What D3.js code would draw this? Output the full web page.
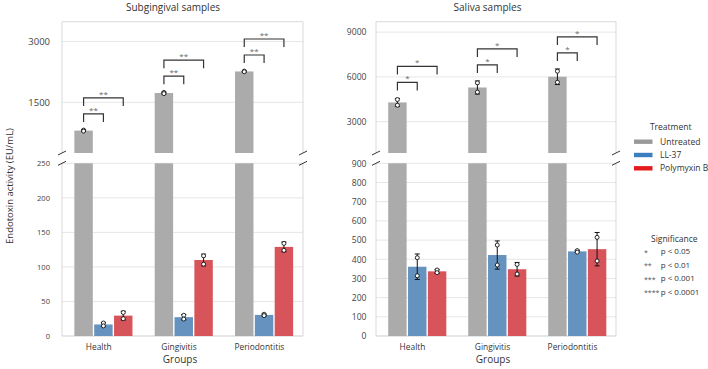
<!DOCTYPE html>
<html>
<head>
<meta charset="utf-8">
<script src="https://cdn.jsdelivr.net/npm/d3@7"></script>
<style>
body { margin: 0; background: #fff; }
text { font-family: "Open Sans", sans-serif; }
</style>
</head>
<body>
<div id="chart"></div>
<script>
var groups = ['Health', 'Gingivitis', 'Periodontitis']
var treatments = ['Untreated', 'LL-37', 'Polymyxin B']

// two replicate measurements per bar (EU/mL)
var subUntreated = [[815, 790], [1745, 1715], [2270, 2255]]
var subLL37 = [[18.8, 14.6], [30, 24.5], [31.5, 29.5]]
var subPolymyxin = [[34, 25], [116, 104], [134, 124]]

var salUntreated = [[4480, 4100], [5600, 4980], [6380, 5640]]
var salLL37 = [[408, 314], [474, 370], [445, 437]]
var salPolymyxin = [[344, 330], [373, 323], [514, 391]]

var subTicksTop = [1500, 3000]
var subTicksBottom = [0, 50, 100, 150, 200, 250]
var salTicksTop = [3000, 6000, 9000]
var salTicksBottom = [0, 100, 200, 300, 400, 500, 600, 700, 800, 900]

var subStars = ['**', '**']
var salStars = ['*', '*']

var sigKeys = ['*', '**', '***', '****']
var sigLabels = ['p < 0.05', 'p < 0.01', 'p < 0.001', 'p < 0.0001']

var barColor = d3.scaleOrdinal().domain(treatments).range(['#ababab', '#6592bf', '#d7545b'])
var legendColor = d3.scaleOrdinal().domain(treatments).range(['#999999', '#3a7fc0', '#e41a1c'])

var W = 708, H = 369
var topY = [153, 21.7], botY = [336, 163.3]

var svg = d3.select('#chart').append('svg')
    .attr('width', W)
    .attr('height', H)

drawPanel({
    title: 'Subgingival samples', titleX: 173, left: 62, right: 303,
    topDomain: [250, 3490], botDomain: [0, 250],
    ticksTop: subTicksTop, ticksBot: subTicksBottom,
    fsTop: 9.5, fsBot: 7.6, labelGap: 12,
    series: [subUntreated, subLL37, subPolymyxin], stars: subStars, xlabelX: 180
})
drawPanel({
    title: 'Saliva samples', titleX: 487.5, left: 376, right: 616,
    topDomain: [900, 9700], botDomain: [0, 900],
    ticksTop: salTicksTop, ticksBot: salTicksBottom,
    fsTop: 8.6, fsBot: 8.6, labelGap: 9.5,
    series: [salUntreated, salLL37, salPolymyxin], stars: salStars, xlabelX: 493
})

function drawPanel(p) {
    var x0 = d3.scaleBand().domain(groups).range([p.left, p.right])
    var x1 = d3.scaleBand().domain(treatments).range([-28.5, 31])
    var yTop = d3.scaleLinear().domain(p.topDomain).range(topY)
    var yBot = d3.scaleLinear().domain(p.botDomain).range(botY)
    var g = svg.append('g')

    // gridlines
    g.selectAll('.gt').data(p.ticksTop).enter().append('line')
        .attr('x1', p.left).attr('x2', p.right)
        .attr('y1', d => yTop(d)).attr('y2', d => yTop(d))
        .attr('stroke', '#e6e6e6')
    g.selectAll('.gb').data(p.ticksBot).enter().append('line')
        .attr('x1', p.left).attr('x2', p.right)
        .attr('y1', d => yBot(d)).attr('y2', d => yBot(d))
        .attr('stroke', '#e6e6e6')

    // spines
    var spine = '#d9d9d9'
    var frame = [
        [p.left, topY[1], p.right, topY[1]],
        [p.left, topY[1], p.left, topY[0]],
        [p.right, topY[1], p.right, topY[0]],
        [p.left, botY[1], p.left, botY[0]],
        [p.right, botY[1], p.right, botY[0]],
        [p.left, botY[0], p.right, botY[0]]
    ]
    g.selectAll('.sp').data(frame).enter().append('line')
        .attr('x1', d => d[0]).attr('y1', d => d[1])
        .attr('x2', d => d[2]).attr('y2', d => d[3])
        .attr('stroke', spine)

    // y axes
    var fmt = d3.format('d')
    var axTop = g.append('g').attr('transform', 'translate(' + p.left + ',0)')
        .call(d3.axisLeft(yTop).tickValues(p.ticksTop).tickFormat(fmt).tickSize(0).tickPadding(p.labelGap))
    var axBot = g.append('g').attr('transform', 'translate(' + p.left + ',0)')
        .call(d3.axisLeft(yBot).tickValues(p.ticksBot).tickFormat(fmt).tickSize(0).tickPadding(p.labelGap))
    axTop.select('.domain').remove()
    axBot.select('.domain').remove()
    axTop.selectAll('text').attr('font-size', p.fsTop).attr('fill', '#444').style('font-family', 'Open Sans')
    axBot.selectAll('text').attr('font-size', p.fsBot).attr('fill', '#444').style('font-family', 'Open Sans')

    // x axis labels
    var axX = g.append('g').attr('transform', 'translate(-3.5,' + botY[0] + ')')
        .call(d3.axisBottom(x0).tickSize(0).tickPadding(8.4))
    axX.select('.domain').remove()
    axX.selectAll('text').attr('font-size', 8.4).attr('fill', '#333').style('font-family', 'Open Sans')

    // rows of bar data
    var rows = []
    treatments.forEach(function (t, i) {
        groups.forEach(function (gr, j) {
            var vals = p.series[i][j]
            rows.push({ t: t, g: gr, vals: vals, mean: d3.mean(vals), sd: d3.deviation(vals) })
        })
    })
    var bw = x1.bandwidth()
    var cx = d => x0(d.g) + x0.bandwidth() / 2 + x1(d.t) + bw / 2
    var botMax = p.botDomain[1]
    var yOf = (d, v) => d.mean > botMax ? yTop(v) : yBot(v)

    g.selectAll('.barb').data(rows).enter().append('rect')
        .attr('x', d => cx(d) - bw / 2 + 0.7)
        .attr('width', bw - 1.4)
        .attr('y', d => yBot(Math.min(d.mean, botMax)))
        .attr('height', d => yBot(0) - yBot(Math.min(d.mean, botMax)))
        .attr('fill', d => barColor(d.t))
    g.selectAll('.bart').data(rows.filter(d => d.mean > botMax)).enter().append('rect')
        .attr('x', d => cx(d) - bw / 2 + 0.7)
        .attr('width', bw - 1.4)
        .attr('y', d => yTop(d.mean))
        .attr('height', d => yTop(p.topDomain[0]) - yTop(d.mean))
        .attr('fill', d => barColor(d.t))

    // error bars (mean +- sd)
    var eb = g.selectAll('.eb').data(rows).enter().append('g')
    eb.append('line')
        .attr('x1', cx).attr('x2', cx)
        .attr('y1', d => yOf(d, d.mean - d.sd)).attr('y2', d => yOf(d, d.mean + d.sd))
        .attr('stroke', '#111').attr('stroke-width', 1)
    eb.append('line')
        .attr('x1', d => cx(d) - 2.5).attr('x2', d => cx(d) + 2.5)
        .attr('y1', d => yOf(d, d.mean + d.sd)).attr('y2', d => yOf(d, d.mean + d.sd))
        .attr('stroke', '#111')
    eb.append('line')
        .attr('x1', d => cx(d) - 2.5).attr('x2', d => cx(d) + 2.5)
        .attr('y1', d => yOf(d, d.mean - d.sd)).attr('y2', d => yOf(d, d.mean - d.sd))
        .attr('stroke', '#111')
    eb.selectAll('circle').data(d => d.vals.map(v => ({ d: d, v: v }))).enter().append('circle')
        .attr('cx', o => cx(o.d))
        .attr('cy', o => yOf(o.d, o.v))
        .attr('r', 2)
        .attr('fill', '#fff')
        .attr('stroke', '#111')
        .attr('stroke-width', 0.9)

    // significance brackets: untreated vs LL-37, untreated vs Polymyxin B
    var line = d3.line()
    groups.forEach(function (gr) {
        var u = rows.find(d => d.g == gr && d.t == 'Untreated')
        var base = yTop(u.mean + u.sd) - 8
        ;['LL-37', 'Polymyxin B'].forEach(function (t, k) {
            var o = rows.find(d => d.g == gr && d.t == t)
            var yb = base - 16 * k, yt = yb - 8
            var xa = cx(u), xb = cx(o)
            g.append('path')
                .attr('d', line([[xa, yb], [xa, yt], [xb, yt], [xb, yb]]))
                .attr('fill', 'none')
                .attr('stroke', '#333')
                .attr('stroke-width', 1.2)
            g.append('text')
                .attr('x', (xa + xb) / 2)
                .attr('y', yt - 1)
                .attr('text-anchor', 'middle')
                .attr('font-size', 8)
                .attr('fill', '#666')
                .text(p.stars[k])
        })
    })

    // axis break marks
    ;[p.left, p.right].forEach(function (bx) {
        ;[topY[0], botY[1]].forEach(function (by) {
            g.append('line')
                .attr('x1', bx - 4).attr('y1', by + 2)
                .attr('x2', bx + 4).attr('y2', by - 2)
                .attr('stroke', '#333').attr('stroke-width', 1)
        })
    })

    g.append('text')
        .attr('x', p.titleX).attr('y', 11)
        .attr('text-anchor', 'middle')
        .attr('font-size', 10)
        .attr('fill', '#333')
        .text(p.title)

    g.append('text')
        .attr('x', p.xlabelX).attr('y', 363.3)
        .attr('text-anchor', 'middle')
        .attr('font-size', 10)
        .attr('fill', '#333')
        .text('Groups')
}

svg.append('text')
    .attr('transform', 'translate(12.5,186) rotate(-90)')
    .attr('text-anchor', 'middle')
    .attr('font-size', 9.5)
    .attr('fill', '#333')
    .text('Endotoxin activity (EU/mL)')

// treatment legend
var leg = svg.append('g')
leg.append('text')
    .attr('x', 670.7).attr('y', 130.3)
    .attr('text-anchor', 'middle')
    .attr('font-size', 8.5).attr('fill', '#333')
    .text('Treatment')
var li = leg.selectAll('.li').data(treatments).enter().append('g')
    .attr('transform', (d, i) => 'translate(634,' + (141.7 + i * 13.3) + ')')
li.append('rect')
    .attr('x', 0).attr('y', -2.2)
    .attr('width', 18.5).attr('height', 4.4)
    .attr('fill', d => legendColor(d))
li.append('text')
    .attr('x', 26).attr('y', 3)
    .attr('font-size', 8.5).attr('fill', '#333')
    .text(d => d)

// significance legend
var sig = svg.append('g')
sig.append('text')
    .attr('x', 674.3).attr('y', 241.5)
    .attr('text-anchor', 'middle')
    .attr('font-size', 8.5).attr('fill', '#333')
    .text('Significance')
var si = sig.selectAll('.si').data(sigKeys).enter().append('g')
    .attr('transform', (d, i) => 'translate(0,' + (251 + i * 13.5) + ')')
si.append('text')
    .attr('x', 644).attr('y', 3.5)
    .attr('font-size', 7).attr('fill', '#555')
    .text(d => d)
si.append('text')
    .attr('x', 660.7).attr('y', 3)
    .attr('font-size', 8).attr('fill', '#333')
    .text((d, i) => sigLabels[i])
</script>
</body>
</html>
